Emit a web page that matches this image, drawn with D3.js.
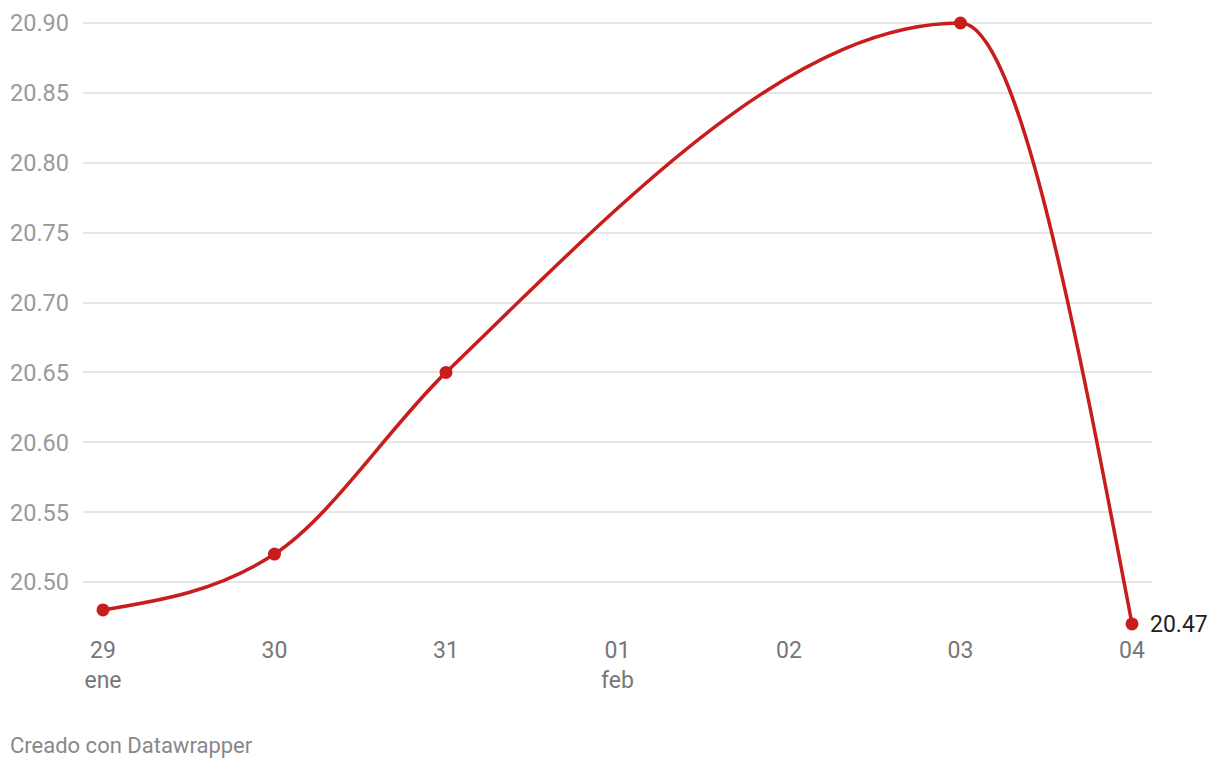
<!DOCTYPE html>
<html>
<head>
<meta charset="utf-8">
<script src="https://cdn.jsdelivr.net/npm/d3@7"></script>
<style>
  html, body { margin: 0; padding: 0; background: #fff; }
  svg { display: block; font-family: Roboto, "Noto Sans", sans-serif; }
</style>
</head>
<body>
<svg id="chart" width="1220" height="770"></svg>
<script>
// Data
const dates = ["2024-01-29", "2024-01-30", "2024-01-31", "2024-02-03", "2024-02-04"];
const values = [20.48, 20.52, 20.65, 20.90, 20.47];
const xTickDates = ["2024-01-29", "2024-01-30", "2024-01-31", "2024-02-01", "2024-02-02", "2024-02-03", "2024-02-04"];
const xTickLabels = ["29", "30", "31", "01", "02", "03", "04"];
const monthLabels = [{ date: "2024-01-29", label: "ene" }, { date: "2024-02-01", label: "feb" }];
const yTicks = [20.50, 20.55, 20.60, 20.65, 20.70, 20.75, 20.80, 20.85, 20.90];
const footer = "Creado con Datawrapper";

const parse = d3.utcParse("%Y-%m-%d");
const data = dates.map((d, i) => ({ date: parse(d), value: values[i] }));

const svg = d3.select("#chart");
const x = d3.scaleUtc()
  .domain([parse(dates[0]), parse(dates[dates.length - 1])])
  .range([103, 1132]);
const y = d3.scaleLinear().domain([20.50, 20.90]).range([582, 23]);

// Grid lines
svg.append("g").selectAll("line").data(yTicks).join("line")
  .attr("x1", 83).attr("x2", 1152)
  .attr("y1", d => Math.round(y(d))).attr("y2", d => Math.round(y(d)))
  .attr("stroke", "#e6e6e6").attr("stroke-width", 2);

// Y labels
svg.append("g").selectAll("text").data(yTicks).join("text")
  .attr("x", 10).attr("y", d => y(d)).attr("dy", "0.36em")
  .attr("fill", "#9a9a9a").attr("font-size", 23.5)
  .text(d => d3.format(".2f")(d));

// X labels
const xAxis = svg.append("g");
xAxis.selectAll("text.tick").data(xTickDates).join("text")
  .attr("class", "tick")
  .attr("x", d => x(parse(d))).attr("y", 658)
  .attr("text-anchor", "middle").attr("fill", "#777").attr("font-size", 23)
  .text((d, i) => xTickLabels[i]);
xAxis.selectAll("text.month").data(monthLabels).join("text")
  .attr("class", "month")
  .attr("x", d => x(parse(d.date))).attr("y", 688)
  .attr("text-anchor", "middle").attr("fill", "#777").attr("font-size", 23)
  .text(d => d.label);

// Line
const line = d3.line().x(d => x(d.date)).y(d => y(d.value)).curve(d3.curveMonotoneX);
svg.append("path").datum(data)
  .attr("d", line).attr("fill", "none")
  .attr("stroke", "#c71e1d").attr("stroke-width", 3.5)
  .attr("stroke-linejoin", "round").attr("stroke-linecap", "round");

// Dots
svg.append("g").selectAll("circle").data(data).join("circle")
  .attr("cx", d => x(d.date)).attr("cy", d => y(d.value))
  .attr("r", 6.5).attr("fill", "#c71e1d");

// Last value label
const last = data[data.length - 1];
svg.append("text")
  .attr("x", x(last.date) + 18).attr("y", y(last.value)).attr("dy", "0.36em")
  .attr("fill", "#222").attr("font-size", 23)
  .text(d3.format(".2f")(last.value));

// Footer
svg.append("text").attr("x", 10).attr("y", 753)
  .attr("fill", "#888").attr("font-size", 22)
  .text(footer);
</script>
</body>
</html>
